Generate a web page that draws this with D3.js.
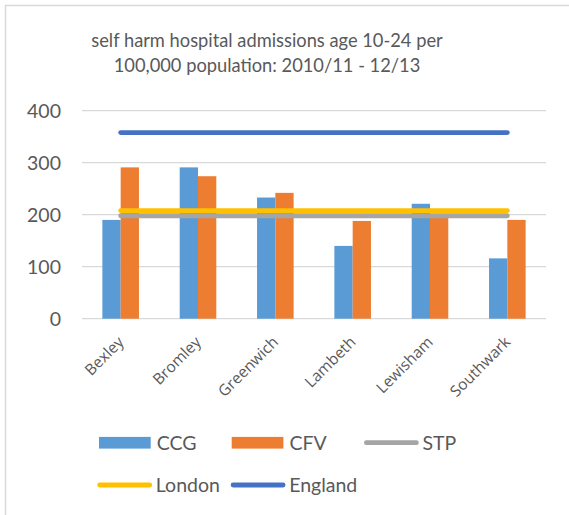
<!DOCTYPE html>
<html><head><meta charset="utf-8">
<script src="https://cdn.jsdelivr.net/npm/d3@7"></script>
<style>body{margin:0;background:#fff}text{font-family:Lato,"Open Sans",sans-serif;fill:#595959}</style>
</head><body><svg id="c" width="569" height="515"></svg>
<script>
const categories = ["Bexley","Bromley","Greenwich","Lambeth","Lewisham","Southwark"];
const ccg = [190, 291, 233, 140, 221, 116];
const cfv = [291, 274, 242, 188, 195, 190];
const stp = [198, 198, 198, 198, 198, 198];
const london = [208, 208, 208, 208, 208, 208];
const england = [358, 358, 358, 358, 358, 358];
const yTicks = [0, 100, 200, 300, 400];
const titleLines = ["self harm hospital admissions age 10-24 per", "100,000 population: 2010/11 - 12/13"];

const svg = d3.select("#c");
svg.append("rect").attr("x",5.5).attr("y",5.5).attr("width",600).attr("height",600)
  .attr("fill","#fff").attr("stroke","#d9d9d9").attr("stroke-width",1.5);

svg.selectAll(".title").data(titleLines).join("text")
  .attr("x",267).attr("y",(d,i)=>47+i*25).attr("text-anchor","middle")
  .style("font-size","18.3px").text(d=>d);

const x = d3.scaleBand().domain(categories).range([82,546]).paddingInner(0).paddingOuter(0);
const y = d3.scaleLinear().domain([0,400]).range([318.7,110.7]);
const bw = 18.3;

const g = svg.append("g");
g.selectAll(".grid").data(yTicks).join("line")
  .attr("x1",82).attr("x2",546).attr("y1",d=>y(d)).attr("y2",d=>y(d))
  .attr("stroke","#d9d9d9").attr("stroke-width",1.3);

const yAxis = g.append("g").attr("transform","translate(61,0)")
  .call(d3.axisLeft(y).tickValues(yTicks).tickSize(0).tickPadding(0));
yAxis.select(".domain").remove();
yAxis.selectAll("text").style("font-size","19.5px").style("font-family","Lato,sans-serif").attr("fill","#595959").attr("dy","0.35em");

const cx = d => x(d) + x.bandwidth()/2;
g.selectAll(".ccg").data(categories).join("rect")
  .attr("x",(d)=>cx(d)-bw).attr("width",bw)
  .attr("y",(d,i)=>y(ccg[i])).attr("height",(d,i)=>y(0)-y(ccg[i]))
  .attr("fill","#5B9BD5");
g.selectAll(".cfv").data(categories).join("rect")
  .attr("x",(d)=>cx(d)).attr("width",bw)
  .attr("y",(d,i)=>y(cfv[i])).attr("height",(d,i)=>y(0)-y(cfv[i]))
  .attr("fill","#ED7D31");

const line = arr => d3.line().x((d,i)=>cx(categories[i])).y(d=>y(d))(arr);
[[stp,"#A5A5A5"],[london,"#FFC000"],[england,"#4472C4"]].forEach(([arr,col])=>{
  g.append("path").attr("d",line(arr)).attr("fill","none").attr("stroke",col)
   .attr("stroke-width",4.8).attr("stroke-linecap","round");
});

g.selectAll(".cat").data(categories).join("text")
  .attr("transform",d=>`translate(${cx(d)+4},${343}) rotate(-45)`)
  .attr("text-anchor","end").style("font-family","'Open Sans',sans-serif").style("font-size","15.5px").text(d=>d);

// legend
const leg = svg.append("g").style("font-size","19.5px");
const items = [
  {name:"CCG", type:"rect", col:"#5B9BD5", x:99, y:442.7},
  {name:"CFV", type:"rect", col:"#ED7D31", x:231.7, y:442.7},
  {name:"STP", type:"line", col:"#A5A5A5", x:364, y:442.7},
  {name:"London", type:"line", col:"#FFC000", x:97.3, y:485},
  {name:"England", type:"line", col:"#4472C4", x:230.7, y:485}
];
items.forEach(it=>{
  if(it.type==="rect"){
    leg.append("rect").attr("x",it.x).attr("y",it.y-5.8).attr("width",51.7).attr("height",11.7).attr("fill",it.col);
  } else {
    leg.append("line").attr("x1",it.x+2.4).attr("x2",it.x+52.4).attr("y1",it.y).attr("y2",it.y)
      .attr("stroke",it.col).attr("stroke-width",4.8).attr("stroke-linecap","round");
  }
  leg.append("text").attr("x",it.x+(it.type==="rect"?57.7:58.5)).attr("y",it.y).attr("dy","0.35em").text(it.name);
});
</script></body></html>
